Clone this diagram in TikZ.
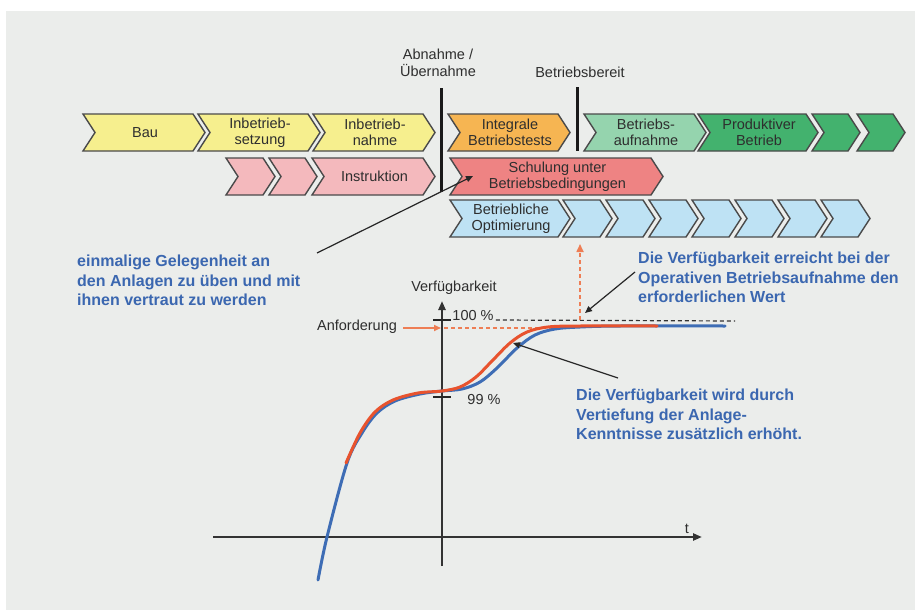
\documentclass[tikz,border=0pt]{standalone}
\usepackage{fontspec}
\setmainfont{Liberation Sans}
\usetikzlibrary{arrows.meta}
\definecolor{bg}{HTML}{EBEDEB}
\definecolor{chevline}{HTML}{4A4A4A}
\definecolor{cyellow}{HTML}{F6EF8E}
\definecolor{corange}{HTML}{F6B552}
\definecolor{clgreen}{HTML}{95D4AE}
\definecolor{cgreen}{HTML}{43B26E}
\definecolor{cpink}{HTML}{F4B9BD}
\definecolor{cred}{HTML}{EE8383}
\definecolor{clblue}{HTML}{BEE2F4}
\definecolor{txtblue}{HTML}{3B67B0}
\definecolor{curveblue}{HTML}{3E6DB5}
\definecolor{curvered}{HTML}{E8532E}
\definecolor{dashorange}{HTML}{EE7E55}
\definecolor{txtdark}{HTML}{2E2E2E}
\tikzset{
  chev/.style={draw=chevline, line width=1.4pt, line join=miter},
  chevtext/.style={align=center, inner sep=0pt, text=txtdark, font=\fontsize{14.5}{16}\selectfont},
  lab/.style={inner sep=0pt, text=txtdark, font=\fontsize{14.5}{16}\selectfont},
  bluetxt/.style={inner sep=0pt, align=left, anchor=north west, text=txtblue, font=\fontsize{16}{19.5}\selectfont\bfseries},
  ann/.style={draw=black!85, line width=1.2pt, -{Triangle[length=7pt,width=6pt]}},
  axisline/.style={draw=black!80, line width=2.4pt},
  curveline/.style={line width=3pt, line cap=round, line join=round},
  milestone/.style={draw=black!90, line width=3pt},
  odash/.style={draw=dashorange, line width=1.6pt, dash pattern=on 4pt off 3pt},
  kdash/.style={draw=black!80, line width=1.2pt, dash pattern=on 4pt off 3pt}
}
% #1 name, #2 x left, #3 y top, #4 width, #5 fill, #6 text
\newcommand\chevr[6]{%
  \draw[chev, fill=#5] (#2,#3) -- ++(#4-12,0) -- ++(12,18.5) -- ++(-12,18.5) -- ++(-#4+12,0) -- ++(12,-18.5) -- cycle;
  \node[chevtext] (#1) at (#2+#4/2+1,#3+18.5) {#6};}
\begin{document}
\begin{tikzpicture}[x=1pt,y=-1pt]
\useasboundingbox (0,0) rectangle (915,610);
\fill[white] (0,0) rectangle (915,610);
\fill[bg] (6,11) rectangle (915,610);

% row 1
\chevr{bau}{83}{114}{122}{cyellow}{Bau}
\chevr{ibs}{198}{114}{122}{cyellow}{Inbetrieb-\\setzung}
\chevr{ibn}{313}{114}{122}{cyellow}{Inbetrieb-\\nahme}
\chevr{ibt}{448}{114}{122}{corange}{Integrale\\Betriebstests}
\chevr{bau2}{584}{114}{122}{clgreen}{Betriebs-\\aufnahme}
\chevr{prod}{698}{114}{120}{cgreen}{Produktiver\\Betrieb}
\chevr{g1}{812}{114}{48}{cgreen}{}
\chevr{g2}{857}{114}{48}{cgreen}{}

% row 2
\chevr{p1}{226}{158}{49}{cpink}{}
\chevr{p2}{269}{158}{48}{cpink}{}
\chevr{instr}{312}{158}{123}{cpink}{Instruktion}
\chevr{schul}{450}{158}{213}{cred}{Schulung unter\\Betriebsbedingungen}

% row 3
\chevr{opt}{450}{200}{120}{clblue}{Betriebliche\\Optimierung}
\foreach \i in {0,...,6}{
  \pgfmathsetmacro\xx{563+43*\i}
  \chevr{b\i}{\xx}{200}{49}{clblue}{}
}

% milestones
\draw[milestone] (441,88) -- (441,192);
\draw[milestone] (577,87) -- (577,151);
\node[lab, align=center] (abn) at (438,63) {Abnahme /\\[1pt]Übernahme};
\node[lab] (bb) at (580,72) {Betriebsbereit};

% annotation texts
\node[bluetxt] (t1) at (77,255) {einmalige Gelegenheit an\\den Anlagen zu üben und mit\\ihnen vertraut zu werden};
\node[bluetxt] (t2) at (638,252) {Die Verfügbarkeit erreicht bei der\\Operativen Betriebsaufnahme den\\erforderlichen Wert};
\node[bluetxt] (t3) at (576,389) {Die Verfügbarkeit wird durch\\Vertiefung der Anlage-\\Kenntnisse zusätzlich erhöht.};

% graph labels
\node[lab] (vf) at (454,288) {Verfügbarkeit};
\node[lab] (anf) at (357,327) {Anforderung};
\node[lab] (p100) at (473,316) {100 \%};
\node[lab] (p99) at (484,400) {99 \%};
\node[lab] (tl) at (687,529) {t};

% dashed guides
\draw[kdash] (p100.east) ++(2,4) -- (735,321);
\draw[odash] (444,328) -- (560,328);
\draw[odash, -{Triangle[length=8pt,width=7pt]}] (580,320) -- (580,244);
\draw[draw=dashorange, line width=1.6pt, -{Triangle[length=7pt,width=6pt]}] ([xshift=7pt]anf.east) |- (441,328);

% axes
\draw[axisline, -{Triangle[length=9pt,width=7pt]}] (213,537) -- (702,537);
\draw[axisline, -{Triangle[length=9pt,width=7pt]}] (442,566) -- (442,301);
\draw[draw=black!85, line width=2.6pt] (433,320) -- (451,320);
\draw[draw=black!85, line width=2.6pt] (433,397) -- (451,397);

% curves
\draw[curveline, curveblue] plot[smooth, tension=0.55] coordinates {(318,580) (327,537) (347,463) (362,433) (377,413) (395,401) (420,394) (442,391) (462,389) (480,382) (497,368) (517,348) (535,335) (555,329) (580,327) (620,326) (725,326)};
\draw[curveline, curvered] plot[smooth, tension=0.55] coordinates {(346,463) (360,433) (375,412) (393,400) (418,393) (442,391) (460,387) (476,377) (492,361) (510,343) (527,332) (548,327) (580,326) (657,326)};

% annotation arrows
\coordinate (a1s) at (317,253);
\coordinate (a1e) at (473,176);
\draw[ann] (a1s) -- (a1e);
\coordinate (a2s) at (635,272);
\coordinate (a2e) at (585,313);
\draw[ann] (a2s) -- (a2e);
\coordinate (a3s) at (618,378);
\coordinate (a3e) at (513,343);
\draw[ann] (a3s) -- (a3e);
\end{tikzpicture}
\end{document}
